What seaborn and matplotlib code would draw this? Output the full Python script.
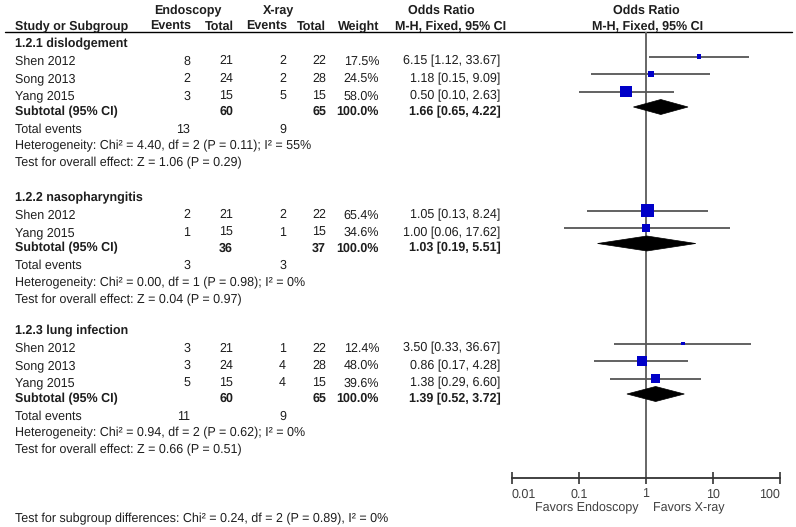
import numpy as np
import pandas as pd
import seaborn as sns
import matplotlib.pyplot as plt
from matplotlib.patches import Polygon

# ---- data ----
groups = ["1.2.1 dislodgement", "1.2.2 nasopharyngitis", "1.2.3 lung infection"]

study_group = [0, 0, 0, 1, 1, 2, 2, 2]
study_names = ["Shen 2012", "Song 2013", "Yang 2015",
               "Shen 2012", "Yang 2015",
               "Shen 2012", "Song 2013", "Yang 2015"]
endo_events = [8, 2, 3, 2, 1, 3, 3, 5]
endo_total = [21, 24, 15, 21, 15, 21, 24, 15]
xray_events = [2, 2, 5, 2, 1, 1, 4, 4]
xray_total = [22, 28, 15, 22, 15, 22, 28, 15]
weights = [17.5, 24.5, 58.0, 65.4, 34.6, 12.4, 48.0, 39.6]
odds = [6.15, 1.18, 0.50, 1.05, 1.00, 3.50, 0.86, 1.38]
ci_low = [1.12, 0.15, 0.10, 0.13, 0.06, 0.33, 0.17, 0.29]
ci_high = [33.67, 9.09, 2.63, 8.24, 17.62, 36.67, 4.28, 6.60]

sub_endo_total = [60, 36, 60]
sub_xray_total = [65, 37, 65]
sub_or = [1.66, 1.03, 1.39]
sub_low = [0.65, 0.19, 0.52]
sub_high = [4.22, 5.51, 3.72]
tot_events_endo = [13, 3, 11]
tot_events_xray = [9, 3, 9]
het_chi2 = [4.40, 0.00, 0.94]
het_df = [2, 1, 2]
het_p = [0.11, 0.98, 0.62]
het_i2 = [55, 0, 0]
overall_z = [1.06, 0.04, 0.66]
overall_p = [0.29, 0.97, 0.51]

tick_values = [0.01, 0.1, 1, 10, 100]
tick_labels = ["0.01", "0.1", "1", "10", "100"]
subgroup_test = "Test for subgroup differences: Chi² = 0.24, df = 2 (P = 0.89), I² = 0%"

# ---- style ----
sns.set_style("white")
plt.rcParams['font.family'] = ['Liberation Sans', 'DejaVu Sans']
plt.rcParams['text.hinting'] = 'no_hinting'

W, H = 796, 527
FS = 9.0
TXT = '#1e1e1e'
GREY = '#404040'

fig = plt.figure(figsize=(W / 100, H / 100), dpi=100)
tab = fig.add_axes([0, 0, 1, 1])
tab.set_xlim(0, W)
tab.set_ylim(H, 0)
tab.axis('off')


def put(x, y, s, ha='left', bold=False, color=TXT):
    tab.text(x, y + 4, s, ha=ha, va='baseline', fontsize=FS,
             fontweight='bold' if bold else 'normal', color=color)


# column anchors (pixels)
X_NAME, X_EE, X_ET, X_XE, X_XT, X_W, X_OR = 15, 190, 233, 286, 326, 379, 500.7

# header
put(188, 10, "Endoscopy", ha='center', bold=True)
put(279, 10, "X-ray", ha='center', bold=True)
put(441.7, 10, "Odds Ratio", ha='center', bold=True)
put(646.7, 10, "Odds Ratio", ha='center', bold=True)
put(X_NAME, 26, "Study or Subgroup", bold=True)
put(X_EE + 1, 26, "Events", ha='right', bold=True)
put(X_ET + 1, 26, "Total", ha='right', bold=True)
put(X_XE + 1, 26, "Events", ha='right', bold=True)
put(X_XT, 26, "Total", ha='right', bold=True)
put(X_W, 26, "Weight", ha='right', bold=True)
put(450.7, 26, "M-H, Fixed, 95% CI", ha='center', bold=True)
put(648, 26, "M-H, Fixed, 95% CI", ha='center', bold=True)
tab.plot([5, 792], [31.7, 31.7], color='black', lw=1)

# ---- table rows ----
group_start = [43, 197, 330]
study_y = []
sub_y = []
for g, gname in enumerate(groups):
    y = group_start[g]
    put(X_NAME, y, gname, bold=True)
    for i in range(len(study_names)):
        if study_group[i] != g:
            continue
        y += 17.5
        study_y.append(y)
        put(X_NAME, y, study_names[i])
        put(X_EE, y, str(endo_events[i]), ha='right')
        put(X_ET, y, str(endo_total[i]), ha='right')
        put(X_XE, y, str(xray_events[i]), ha='right')
        put(X_XT, y, str(xray_total[i]), ha='right')
        put(X_W, y, f"{weights[i]:.1f}%", ha='right')
        put(X_OR, y, f"{odds[i]:.2f} [{ci_low[i]:.2f}, {ci_high[i]:.2f}]", ha='right')
    y += 15.5
    sub_y.append(y)
    put(X_NAME, y, "Subtotal (95% CI)", bold=True)
    put(X_ET, y, str(sub_endo_total[g]), ha='right', bold=True)
    put(X_XT, y, str(sub_xray_total[g]), ha='right', bold=True)
    put(X_W, y, "100.0%", ha='right', bold=True)
    put(X_OR, y, f"{sub_or[g]:.2f} [{sub_low[g]:.2f}, {sub_high[g]:.2f}]", ha='right', bold=True)
    y += 17.5
    put(X_NAME, y, "Total events")
    put(X_EE, y, str(tot_events_endo[g]), ha='right')
    put(X_XE, y, str(tot_events_xray[g]), ha='right')
    y += 17
    put(X_NAME, y, f"Heterogeneity: Chi² = {het_chi2[g]:.2f}, df = {het_df[g]} "
                   f"(P = {het_p[g]:.2f}); I² = {het_i2[g]}%")
    y += 17
    put(X_NAME, y, f"Test for overall effect: Z = {overall_z[g]:.2f} (P = {overall_p[g]:.2f})")

put(X_NAME, 518.5, subgroup_test)

# ---- forest panel ----
AX_L, AX_R, AX_T, AX_B = 511.7, 780.3, 31.7, 478.3
ax = fig.add_axes([AX_L / W, (H - AX_B) / H, (AX_R - AX_L) / W, (AX_B - AX_T) / H])
ax.patch.set_alpha(0)

studies = pd.DataFrame({
    "or": odds, "low": ci_low, "high": ci_high, "weight": weights,
    "y": np.array(study_y) - 4,
})
side_pt = (1.8 + 0.175 * studies["weight"]) * 0.72

ax.axvline(1, color='#666666', lw=1.4, zorder=1)
ax.hlines(studies["y"], studies["low"], studies["high"], color='#555555', lw=1.3, zorder=2)
sns.scatterplot(data=studies, x="or", y="y", marker='s', s=side_pt ** 2,
                color='#0000c8', linewidth=0, legend=False, ax=ax, zorder=3)

for g in range(len(groups)):
    yc = sub_y[g] - 4
    ax.add_patch(Polygon([(sub_low[g], yc), (sub_or[g], yc - 7.5),
                          (sub_high[g], yc), (sub_or[g], yc + 7.5)],
                         closed=True, facecolor='black', edgecolor='black',
                         lw=0.5, zorder=4))

ax.set_xscale('log')
ax.set_xlim(0.01, 100)
ax.set_ylim(AX_B, AX_T)
ax.set_xlabel('')
ax.set_ylabel('')
ax.set_yticks([])
ax.set_xticks(tick_values)
ax.set_xticklabels(tick_labels)
ax.minorticks_off()
for s in ['top', 'left', 'right']:
    ax.spines[s].set_visible(False)
ax.spines['bottom'].set_color('#333333')
ax.spines['bottom'].set_linewidth(1.3)
ax.tick_params(axis='x', bottom=True, direction='inout', length=8, width=1.2,
               color='#333333', labelsize=FS, labelcolor=GREY, pad=3)
xt = ax.get_xticklabels()
xt[0].set_ha('left')
xt[-1].set_ha('right')

ax.annotate("Favors Endoscopy", xy=(1, 0), xycoords=('data', 'axes fraction'),
            xytext=(-5.5, -21.6), textcoords='offset points', ha='right', va='center',
            fontsize=FS, color=GREY)
ax.annotate("Favors X-ray", xy=(1, 0), xycoords=('data', 'axes fraction'),
            xytext=(5, -21.6), textcoords='offset points', ha='left', va='center',
            fontsize=FS, color=GREY)

fig.savefig('out.png', dpi=100)
